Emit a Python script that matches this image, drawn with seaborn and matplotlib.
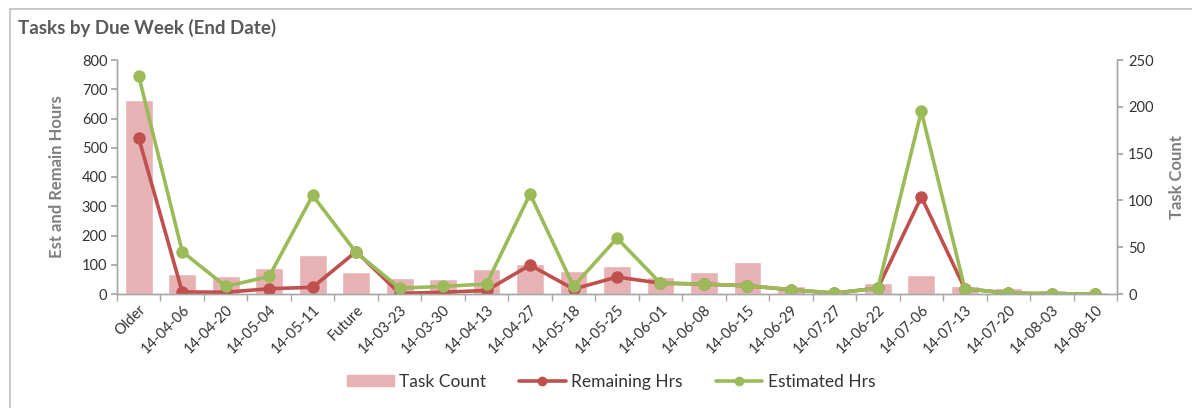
import matplotlib
matplotlib.use("Agg")
import matplotlib.pyplot as plt
import matplotlib.patches as mpatches
from matplotlib.lines import Line2D
import numpy as np
import pandas as pd
import seaborn as sns

weeks = ["Older", "14-04-06", "14-04-20", "14-05-04", "14-05-11", "Future",
         "14-03-23", "14-03-30", "14-04-13", "14-04-27", "14-05-18", "14-05-25",
         "14-06-01", "14-06-08", "14-06-15", "14-06-29", "14-07-27", "14-06-22",
         "14-07-06", "14-07-13", "14-07-20", "14-08-03", "14-08-10"]
task_count = [207, 21, 19, 28, 42, 23, 17, 16, 27, 32, 25, 30,
              18, 23, 34, 9, 3, 12, 20, 9, 6, 4, 2]
remaining_hrs = [533, 7, 6, 18, 23, 145, 2, 6, 12, 99, 17, 58,
                 37, 34, 28, 15, 3, 20, 332, 18, 3, 1, 0]
estimated_hrs = [745, 145, 26, 60, 337, 142, 20, 26, 34, 342, 26, 191,
                 37, 34, 28, 15, 3, 20, 624, 18, 3, 1, 0]

df = pd.DataFrame({"week": weeks, "tasks": task_count,
                   "remaining": remaining_hrs, "estimated": estimated_hrs})

sns.set_theme(style="white")
plt.rcParams["font.family"] = ["Lato", "DejaVu Sans"]

bar_col = "#E6B2B4"
red = "#C0504D"
green = "#9BBB59"
axis_grey = "#A6A6A6"
text_dark = "#333333"
label_grey = "#7F7F7F"

W, H = 1192, 408
fig = plt.figure(figsize=(W / 100, H / 100), dpi=100)
ax = fig.add_axes([117 / W, 1 - 294 / H, (1117 - 117) / W, (294 - 60) / H])
ax2 = ax.twinx()

sns.barplot(data=df, x="week", y="tasks", color=bar_col, width=0.64,
            saturation=1, ax=ax2)
sns.pointplot(data=df, x="week", y="remaining", color=red, ax=ax,
              markersize=7, linewidth=2.6)
sns.pointplot(data=df, x="week", y="estimated", color=green, ax=ax,
              markersize=7, linewidth=2.6)

# lines above bars
ax.set_zorder(ax2.get_zorder() + 1)
ax.patch.set_visible(False)

ax.set_ylim(0, 800)
ax2.set_ylim(0, 250)
ax.set_xlim(-0.5, len(weeks) - 0.5)
ax.set_yticks(np.arange(0, 801, 100))
ax2.set_yticks(np.arange(0, 251, 50))

for a in (ax, ax2):
    for s in a.spines.values():
        s.set_color(axis_grey)
        s.set_linewidth(1)
    a.spines["top"].set_visible(False)
    a.set_xlabel("")

ax.set_xticks(np.arange(len(weeks)))
ax.set_xticklabels(weeks, rotation=45, ha="right", rotation_mode="anchor",
                   fontsize=10.5, color=text_dark)
ax.set_xticks(np.arange(len(weeks) + 1) - 0.5, minor=True)
ax.tick_params(axis="x", which="major", length=0, pad=6)
ax.tick_params(axis="x", which="minor", length=5, color=axis_grey, bottom=True)
ax.tick_params(axis="y", length=4, color=axis_grey, left=True, labelsize=10.5,
               labelcolor=text_dark, pad=3)
ax2.tick_params(axis="y", length=4, color=axis_grey, right=True, labelsize=10.5,
                labelcolor=text_dark, pad=4)
ax2.tick_params(axis="x", length=0)

ax.set_ylabel("Est and Remain Hours", fontsize=12, color=label_grey,
              fontweight="bold", labelpad=12)
ax2.set_ylabel("Task Count", fontsize=12, color=label_grey,
               fontweight="bold", labelpad=11)

fig.text(18 / W, 1 - 28 / H, "Tasks by Due Week (End Date)", fontsize=13.5,
         fontweight="bold", color="#595959", va="center", ha="left")

fig.patches.append(mpatches.Rectangle((10 / W, -0.01), 1.0, 1 - 9 / H + 0.01,
                                      transform=fig.transFigure, fill=False,
                                      edgecolor="#BFBFBF", linewidth=1.2))

handles = [
    mpatches.Patch(color=bar_col, label="Task Count"),
    Line2D([0], [0], color=red, lw=2.6, marker="o", markersize=6, label="Remaining Hrs"),
    Line2D([0], [0], color=green, lw=2.6, marker="o", markersize=6, label="Estimated Hrs"),
]
fig.legend(handles=handles, loc="center", bbox_to_anchor=(611 / W, 1 - 382 / H),
           ncol=3, frameon=False, fontsize=12.5, handlelength=2.7, handleheight=0.6,
           columnspacing=1.9, handletextpad=0.3, labelcolor=text_dark)

fig.savefig("out.png", dpi=100)
